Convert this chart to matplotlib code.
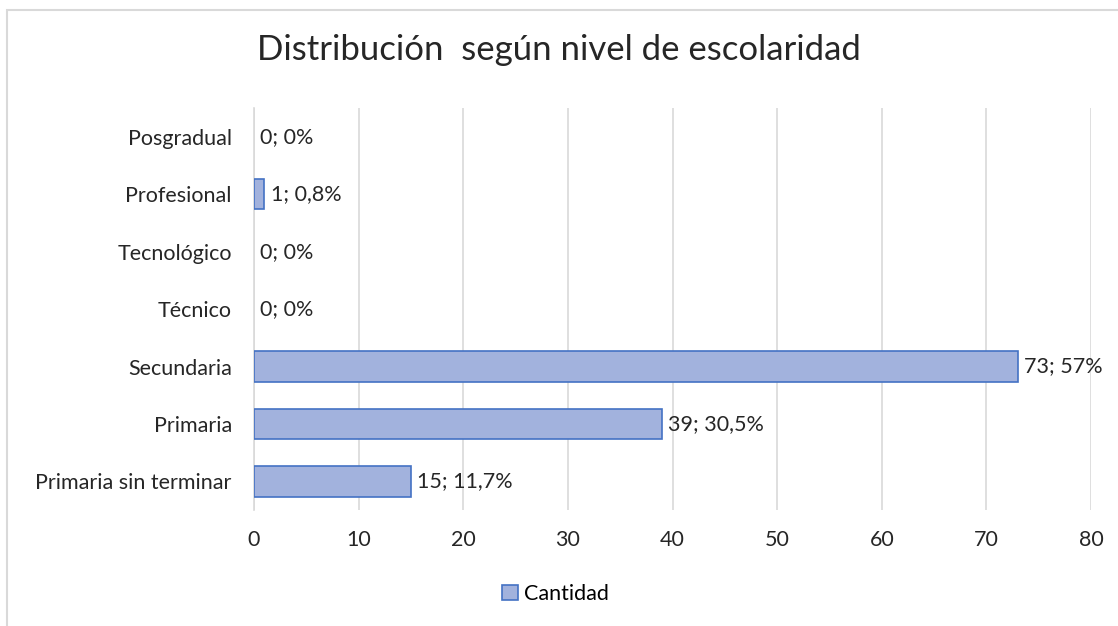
import numpy as np
import matplotlib.pyplot as plt
from matplotlib.patches import Rectangle

plt.rcParams['font.family'] = ['Lato', 'DejaVu Sans']

# data (bottom to top as drawn)
categorias = ['Primaria sin terminar', 'Primaria', 'Secundaria', 'Técnico',
              'Tecnológico', 'Profesional', 'Posgradual']
cantidad = [15, 39, 73, 0, 0, 1, 0]
porcentaje = ['11,7%', '30,5%', '57%', '0%', '0%', '0,8%', '0%']

fig = plt.figure(figsize=(11.18, 6.26), dpi=100)
ax = fig.add_axes([0.2272, 0.185, 0.7487, 0.6425])

# light chart border
fig.patches.append(Rectangle((7 / 1118, -0.01), 1.2, 1 - 10 / 626 + 0.01,
                             transform=fig.transFigure, fill=False,
                             edgecolor='#d9d9d9', linewidth=1.5))

y = np.arange(len(categorias))
lw = [1.2 if v > 0 else 0 for v in cantidad]
ax.barh(y, cantidad, height=0.53, color='#a2b2dd', edgecolor='#4472c4',
        linewidth=lw, label='Cantidad', zorder=3)

for yi, v, p in zip(y, cantidad, porcentaje):
    ax.text(v + 0.6, yi, f'{v}; {p}', va='center', ha='left', fontsize=15.5,
            color='#262626', zorder=4)

ax.set_xlim(0, 80)
ax.set_ylim(-0.5, len(categorias) - 0.5)
ax.set_xticks(np.arange(0, 81, 10))
ax.set_yticks(y)
ax.set_yticklabels(categorias)
ax.tick_params(axis='both', length=0, labelsize=15.5, colors='#262626')
ax.tick_params(axis='x', pad=14)
ax.tick_params(axis='y', pad=16)
ax.grid(axis='x', color='#d9d9d9', linewidth=1.2, zorder=0)
for s in ['top', 'right', 'bottom']:
    ax.spines[s].set_visible(False)
ax.spines['left'].set_color('#d9d9d9')
ax.spines['left'].set_linewidth(1.2)

fig.suptitle('Distribución  según nivel de escolaridad', y=0.945,
             fontsize=25, color='#262626')

fig.legend(loc='center', bbox_to_anchor=(0.497, 0.051), frameon=False,
           fontsize=15.5, handlelength=0.7, handleheight=0.7,
           handletextpad=0.3)

fig.savefig('out.png', dpi=100)
